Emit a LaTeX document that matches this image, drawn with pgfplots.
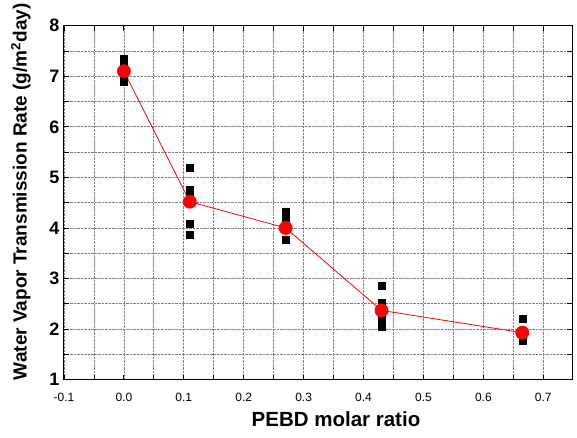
\documentclass[border=0pt]{standalone}
\usepackage{pgfplots}
\pgfplotsset{compat=1.18}
\usepackage{fontspec}
\setmainfont{Liberation Sans}
\begin{document}
\begin{tikzpicture}[x=1pt,y=1pt]
\begin{axis}[
  at={(0,0)}, anchor=south west,
  scale only axis,
  width=508pt, height=354pt,
  xmin=-0.1, xmax=0.748, ymin=1, ymax=8,
  xtick={-0.1,0,0.1,0.2,0.3,0.4,0.5,0.6,0.7},
  xticklabels={-0.1,0.0,0.1,0.2,0.3,0.4,0.5,0.6,0.7},
  ytick={1,2,3,4,5,6,7,8},
  minor xtick={-0.05,0.05,0.15,0.25,0.35,0.45,0.55,0.65},
  minor ytick={1.5,2.5,3.5,4.5,5.5,6.5,7.5},
  grid=both,
  major grid style={densely dotted, gray, line width=0.8pt},
  minor grid style={densely dotted, gray, line width=0.8pt},
  tick align=inside,
  major tick length=5pt, minor tick length=5pt,
  tick style={black, line width=0.9pt},
  axis line style={line width=1pt},
  /pgf/number format/assume math mode=true,
  xticklabel style={font=\fontsize{12}{14}\selectfont, yshift=-10pt},
  yticklabel style={font=\fontsize{18}{20}\selectfont\bfseries, xshift=-1pt},
  xlabel={PEBD molar ratio},
  ylabel={Water Vapor Transmission Rate (g/m\textsuperscript{2}day)},
  xlabel style={font=\fontsize{20.5}{22}\selectfont\bfseries, yshift=-3pt, xshift=18pt},
  ylabel style={font=\fontsize{19}{21}\selectfont\bfseries, yshift=12pt, xshift=11pt},
  clip=false,
]
\addplot[only marks, mark=square*, mark size=3.5pt, black] coordinates {
  (0,7.35) (0,7.25) (0,7.15) (0,7.0) (0,6.9)
  (0.11,5.2) (0.11,4.75) (0.11,4.65) (0.11,4.08) (0.11,3.87)
  (0.27,4.32) (0.27,4.2) (0.27,4.0) (0.27,3.77)
  (0.43,2.86) (0.43,2.52) (0.43,2.35) (0.43,2.2) (0.43,2.05)
  (0.665,2.2) (0.665,1.88) (0.665,1.78)
};
\addplot[red, line width=0.8pt, mark=*, mark size=6.5pt, mark options={fill=red, draw=red}] coordinates {
  (0,7.1) (0.11,4.52) (0.27,4.0) (0.43,2.37) (0.665,1.93)
};
\end{axis}
\path (-64,-58) rectangle (513,378);
\end{tikzpicture}
\end{document}
